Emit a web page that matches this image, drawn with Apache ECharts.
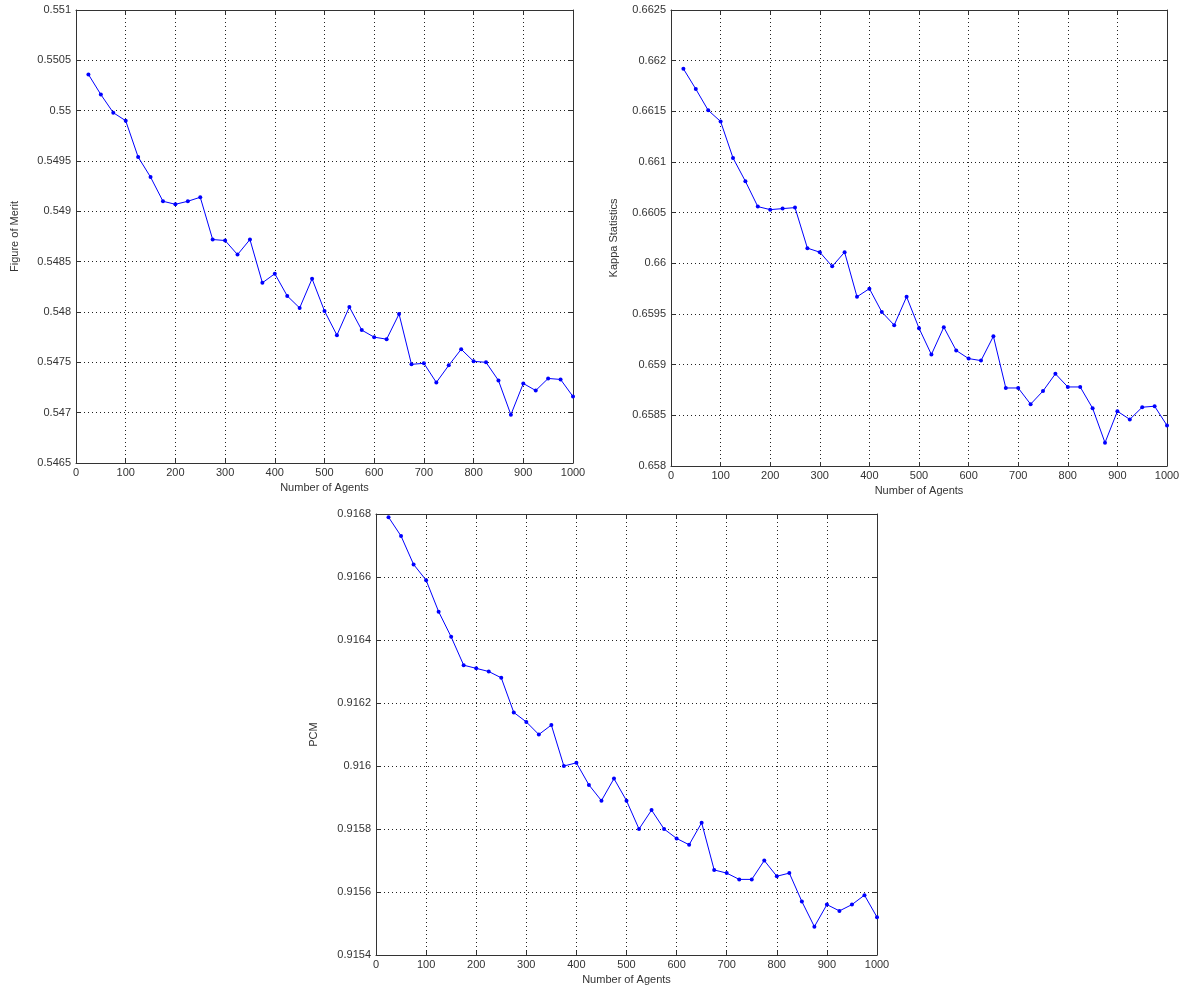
<!DOCTYPE html>
<html>
<head>
<meta charset="utf-8">
<script src="https://cdn.jsdelivr.net/npm/echarts@6/dist/echarts.min.js"></script>
<style>
html,body{margin:0;padding:0;background:#fff;}
#c{width:1185px;height:988px;}
</style>
</head>
<body>
<div id="c"></div>
<script>
var agents = [25,50,75,100,125,150,175,200,225,250,275,300,325,350,375,400,425,450,475,500,
              525,550,575,600,625,650,675,700,725,750,775,800,825,850,875,900,925,950,975,1000];
var figureOfMerit = [0.55036,0.55016,0.54998,0.54990,0.54954,0.54934,0.54910,0.54907,0.54910,0.54914,
                     0.54872,0.54871,0.54857,0.54872,0.54829,0.54838,0.54816,0.54804,0.54833,0.54801,
                     0.54777,0.54805,0.54782,0.54775,0.54773,0.54798,0.54748,0.54749,0.54730,0.54747,
                     0.54763,0.54751,0.54750,0.54732,0.54698,0.54729,0.54722,0.54734,0.54733,0.54716];
var kappa = [0.66192,0.66172,0.66151,0.66140,0.66104,0.66081,0.66056,0.66053,0.66054,0.66055,
             0.66015,0.66011,0.65997,0.66011,0.65967,0.65975,0.65952,0.65939,0.65967,0.65936,
             0.65910,0.65937,0.65914,0.65906,0.65904,0.65928,0.65877,0.65877,0.65861,0.65874,
             0.65891,0.65878,0.65878,0.65857,0.65823,0.65854,0.65846,0.65858,0.65859,0.65840];
var pcm = [0.91679,0.91673,0.91664,0.91659,0.91649,0.91641,0.91632,0.91631,0.91630,0.91628,
           0.91617,0.91614,0.91610,0.91613,0.91600,0.91601,0.91594,0.91589,0.91596,0.91589,
           0.91580,0.91586,0.91580,0.91577,0.91575,0.91582,0.91567,0.91566,0.91564,0.91564,
           0.91570,0.91565,0.91566,0.91557,0.91549,0.91556,0.91554,0.91556,0.91559,0.91552];
var xTitle = 'Number of Agents';
var yTitles = ['Figure of Merit','Kappa Statistics','PCM'];
var yRanges = [[0.5465,0.551,0.0005],[0.658,0.6625,0.0005],[0.9154,0.9168,0.0002]];

function pairs(ys){ return agents.map(function(a,i){ return [a, ys[i]]; }); }

var FONT = 'Liberation Sans, Arial, sans-serif';
var grids = [
  {left:76, top:10, width:497, height:453},
  {left:671, top:10, width:496, height:456},
  {left:376, top:514, width:501, height:441}
];
var nameGaps = [56, 52, 57];
var xAxes = [], yAxes = [], series = [];
var lineCol = '#333';
var txtCol = '#333';
grids.forEach(function(g,i){
  g.containLabel = false;
  xAxes.push({
    type:'value', gridIndex:i, min:0, max:1000, interval:100,
    name: xTitle, nameLocation:'middle', nameGap:19,
    nameTextStyle:{fontFamily:FONT, fontSize:11, color:txtCol},
    axisLine:{show:true, onZero:false, lineStyle:{color:lineCol, width:1}},
    axisTick:{show:true, inside:true, length:4, lineStyle:{color:lineCol}},
    axisLabel:{fontFamily:FONT, fontSize:11, color:txtCol, margin:4,
      formatter:function(v){ return String(Math.round(v)); }},
    splitLine:{show:true, lineStyle:{color:'#222', type:[1,3], width:1}}
  });
  xAxes.push({
    type:'value', gridIndex:i, position:'top', min:0, max:1000, interval:100,
    axisLine:{show:true, onZero:false, lineStyle:{color:lineCol, width:1}},
    axisTick:{show:true, inside:true, length:4, lineStyle:{color:lineCol}},
    axisLabel:{show:false}, splitLine:{show:false}
  });
  var r = yRanges[i];
  yAxes.push({
    type:'value', gridIndex:i, min:r[0], max:r[1], interval:r[2],
    name: yTitles[i], nameLocation:'middle', nameGap:nameGaps[i], nameRotate:90,
    nameTextStyle:{fontFamily:FONT, fontSize:11, color:txtCol},
    axisLine:{show:true, onZero:false, lineStyle:{color:lineCol, width:1}},
    axisTick:{show:true, inside:true, length:4, lineStyle:{color:lineCol}},
    axisLabel:{fontFamily:FONT, fontSize:11, color:txtCol, margin:5,
      formatter:function(v){ return String(+v.toFixed(5)); }},
    splitLine:{show:true, lineStyle:{color:'#222', type:[1,3], width:1}}
  });
  yAxes.push({
    type:'value', gridIndex:i, position:'right', min:r[0], max:r[1], interval:r[2],
    axisLine:{show:true, onZero:false, lineStyle:{color:lineCol, width:1}},
    axisTick:{show:true, inside:true, length:4, lineStyle:{color:lineCol}},
    axisLabel:{show:false}, splitLine:{show:false}
  });
});
var datasets = [figureOfMerit, kappa, pcm];
datasets.forEach(function(d,i){
  series.push({
    type:'line', xAxisIndex:i*2, yAxisIndex:i*2, data:pairs(d),
    symbol:'circle', symbolSize:4, showSymbol:true,
    lineStyle:{color:'#0000ff', width:1},
    itemStyle:{color:'#0000ff'},
    animation:false
  });
});
var chart = echarts.init(document.getElementById('c'), null, {renderer:'canvas'});
chart.setOption({
  animation:false,
  backgroundColor:'#fff',
  grid:grids, xAxis:xAxes, yAxis:yAxes, series:series
});
</script>
</body>
</html>
